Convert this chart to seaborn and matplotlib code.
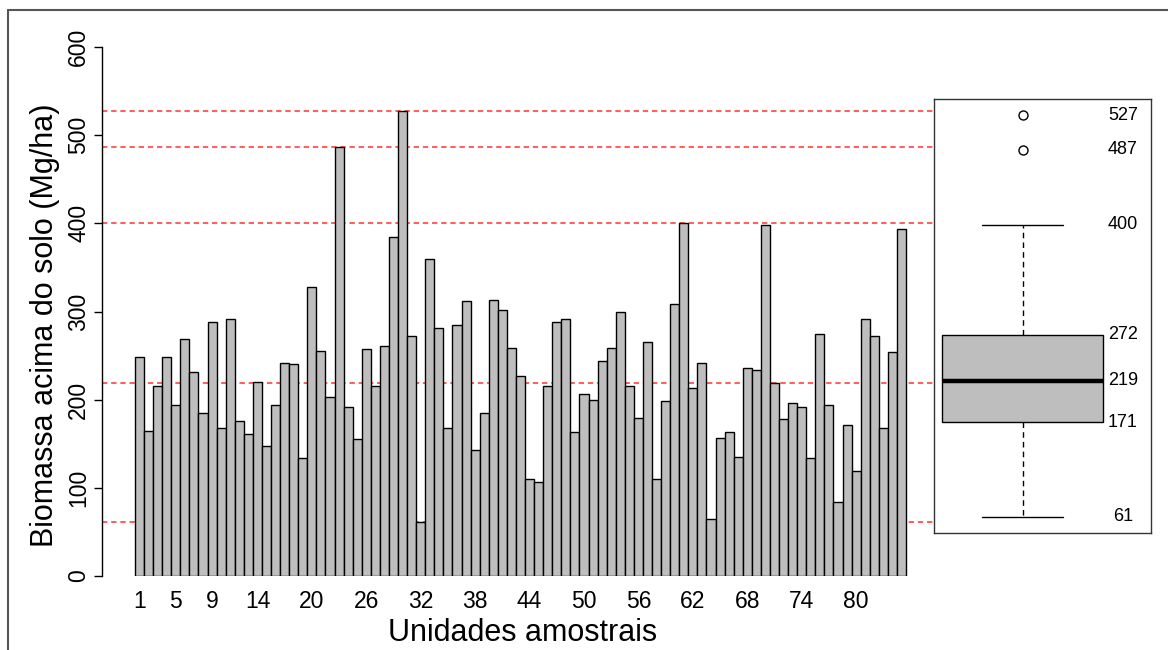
import numpy as np
import pandas as pd
import matplotlib
matplotlib.use("Agg")
import matplotlib.pyplot as plt
import seaborn as sns
from matplotlib.lines import Line2D

# Above-ground biomass per sample unit (Mg/ha)
unidades = list(range(1, 86))
biomassa = [248, 164, 215, 248, 194, 269, 231, 185, 288, 168,
            292, 176, 161, 220, 148, 194, 242, 241, 134, 328,
            255, 203, 487, 192, 155, 257, 216, 261, 384, 527,
            272, 61, 360, 281, 168, 285, 312, 143, 185, 313,
            302, 259, 227, 110, 107, 215, 288, 291, 163, 206,
            200, 244, 259, 299, 216, 179, 265, 110, 198, 309,
            400, 213, 242, 65, 157, 163, 135, 236, 234, 398,
            219, 178, 196, 192, 134, 275, 194, 84, 171, 119,
            291, 272, 168, 254, 394]
rotulos_x = [1, 5, 9, 14, 20, 26, 32, 38, 44, 50, 56, 62, 68, 74, 80]
ticks_y = [0, 100, 200, 300, 400, 500, 600]

df = pd.DataFrame({"unidade": unidades, "biomassa": biomassa})


def estatisticas_box(v, coef=1.5):
    """Tukey hinges, whiskers and outliers."""
    x = np.sort(np.asarray(v, float))
    n = len(x)
    n4 = np.floor((n + 3) / 2) / 2
    d = np.array([1, n4, (n + 1) / 2, n + 1 - n4, n]) - 1
    q = 0.5 * (x[np.floor(d).astype(int)] + x[np.ceil(d).astype(int)])
    iqr = q[3] - q[1]
    lo = x[x >= q[1] - coef * iqr].min()
    hi = x[x <= q[3] + coef * iqr].max()
    out = x[(x < lo) | (x > hi)]
    return lo, q[1], q[2], q[3], hi, out


lo, q1, med, q3, hi, outl = estatisticas_box(biomassa)

sns.set_style("ticks")
plt.rcParams["font.family"] = ["Liberation Sans", "DejaVu Sans"]
plt.rcParams.update({"text.color": "black", "axes.labelcolor": "black",
                     "xtick.color": "black", "ytick.color": "black"})

W, H = 1168, 650
fig = plt.figure(figsize=(W / 100, H / 100), dpi=100)
fig.patch.set_facecolor("white")

# main bar panel
ax = fig.add_axes([102 / W, (H - 576) / H, 833 / W, 529 / H])
ax.set_facecolor("none")
sns.barplot(data=df, x="unidade", y="biomassa", ax=ax, color="#BEBEBE",
            saturation=1, width=1, edgecolor="black", linewidth=1.0,
            errorbar=None)

# reference lines at the box statistics
for v in [lo, med, hi, *outl]:
    ax.axhline(v, color="#FF3030", lw=1.1, ls=(0, (3.5, 2.5)), zorder=0.5)

px = 771 / 85
xl = -0.5 - 33 / px
ax.set_xlim(xl, xl + 833 / px)
ax.set_ylim(0, 600)
ax.set_yticks(ticks_y)
ax.set_yticklabels([str(t) for t in ticks_y])
ax.set_xticks([u - 1 for u in rotulos_x])
ax.set_xticklabels([str(u) for u in rotulos_x])
ax.tick_params(axis="x", length=0, pad=10, labelsize=16.5, labelcolor="black")
ax.tick_params(axis="y", length=5.5, width=1, pad=3, labelsize=16.5,
               direction="out", color="black", labelcolor="black")
for lbl in ax.get_yticklabels():
    lbl.set_rotation(90)
    lbl.set_va("center")
for s in ["top", "right", "bottom"]:
    ax.spines[s].set_visible(False)
ax.spines["left"].set_color("black")
ax.spines["left"].set_linewidth(1)

ax.set_xlabel("Unidades amostrais", fontsize=22, va="center", color="black")
ax.xaxis.set_label_coords((523 - 102) / 833, (576 - 633) / 529)
ax.set_ylabel("Biomassa acima do solo (Mg/ha)", fontsize=22, va="center",
              color="black")
ax.yaxis.set_label_coords((45 - 102) / 833, (576 - 325) / 529)

# boxplot panel
ax2 = fig.add_axes([934 / W, (H - 533) / H, 217 / W, 434 / H])
ax2.set_facecolor("white")
sns.boxplot(y=biomassa, ax=ax2, color="#BEBEBE", saturation=1, width=0.8,
            linecolor="black", linewidth=1.0, whis=1.5,
            whiskerprops=dict(linestyle=(0, (4, 3))),
            medianprops=dict(linewidth=3.2, color="black"),
            flierprops=dict(marker="o", markerfacecolor="white",
                            markeredgecolor="black", markersize=6.5,
                            markeredgewidth=1))
ax2.set_xlim(-88.5 / 202, 128.5 / 202)
pad = 0.04 * (max(biomassa) - min(biomassa))
ax2.set_ylim(min(biomassa) - pad, max(biomassa) + pad)
ax2.set_xticks([])
ax2.set_yticks([])
ax2.set_xlabel("")
ax2.set_ylabel("")
for s in ax2.spines.values():
    s.set_visible(True)
    s.set_color("#333333")
    s.set_linewidth(1)

rotulos = [*outl, hi, q3, med, q1, lo]
for v in rotulos:
    ax2.text(0.871, v, f"{v:.0f}", transform=ax2.get_yaxis_transform(),
             ha="center", va="center", fontsize=13, color="black")

# outer frame
fig.add_artist(Line2D([8 / W, 8 / W], [0, (H - 10) / H], color="#555555",
                      lw=1.5, transform=fig.transFigure))
fig.add_artist(Line2D([8 / W, 1], [(H - 10) / H, (H - 10) / H],
                      color="#555555", lw=1.5, transform=fig.transFigure))

fig.savefig("out.png", dpi=100)
